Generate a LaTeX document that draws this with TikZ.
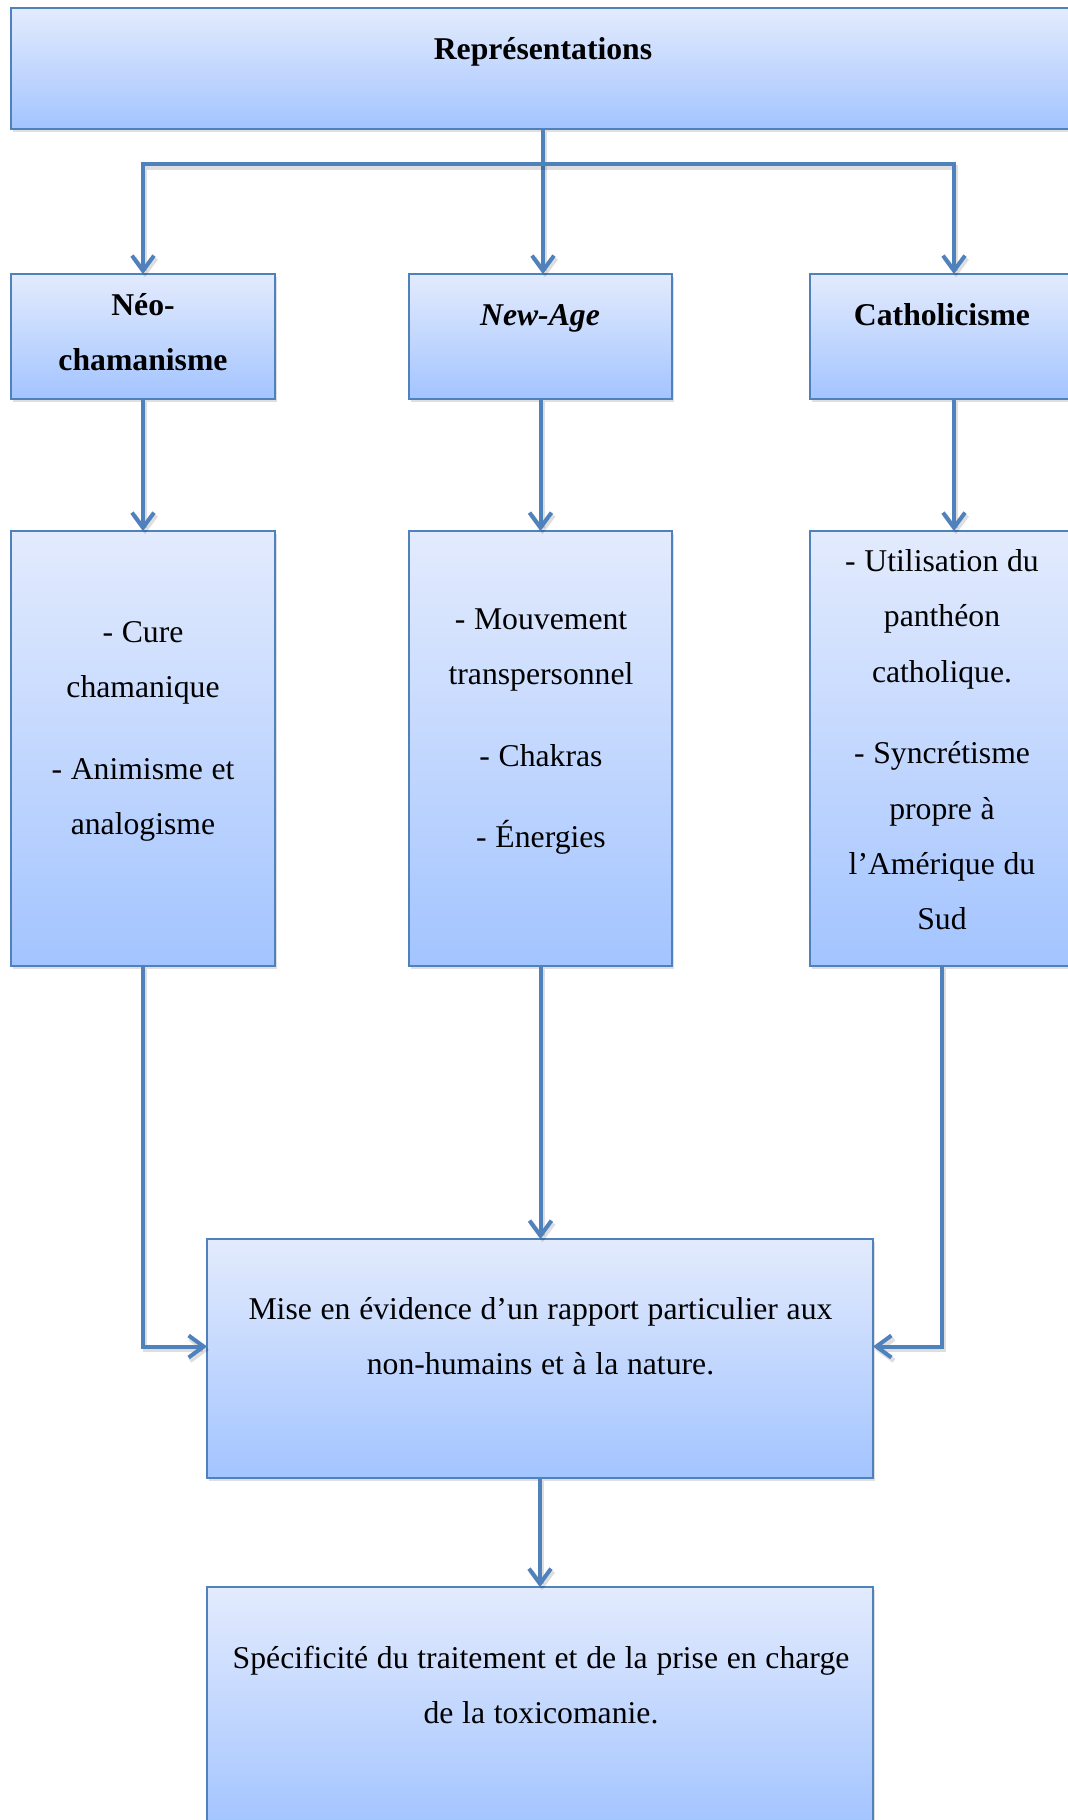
\documentclass[tikz,border=0pt]{standalone}
\usepackage{fontspec}
\setmainfont{Liberation Serif}
\usetikzlibrary{arrows.meta,shadows}
\definecolor{boxline}{RGB}{79,129,189}
\definecolor{boxtop}{RGB}{227,235,253}
\definecolor{boxbot}{RGB}{163,196,255}
\begin{document}
\begin{tikzpicture}[x=0.5pt,y=-0.5pt,
  box/.style={rectangle, draw=boxline, line width=1pt, top color=boxtop, bottom color=boxbot,
    anchor=north west, inner sep=0pt, outer sep=0pt,
    drop shadow={opacity=0.25, shadow xshift=1pt, shadow yshift=-1.6pt}},
  txt/.style={anchor=base, text width=#1, inner sep=0pt,
    font=\fontsize{15.85pt}{27.6pt}\selectfont,
    execute at begin node={\centering\spaceskip=0.275em plus 0.02em minus 0.02em\relax}},
  txt/.default=125pt,
  conn/.style={draw=boxline, line width=2pt,
    preaction={draw=black, draw opacity=0.13, line width=2.4pt, transform canvas={xshift=1pt,yshift=-1.6pt}}},
  arr/.style={conn, -{Straight Barb[length=7.5pt,width=11pt]}}]
\useasboundingbox (0,0) rectangle (1068,1820);
\fill[white] (0,0) rectangle (1068,1820);
\clip (0,0) rectangle (1068,1820);

% boxes
\node[box, minimum width=532pt, minimum height=60.5pt] (top) at (11,8) {};
\node[box, minimum width=132pt, minimum height=62.5pt] (a1) at (11,274) {};
\node[box, minimum width=131.5pt, minimum height=62.5pt] (b1) at (409,274) {};
\node[box, minimum width=132pt, minimum height=62.5pt] (c1) at (810,274) {};
\node[box, minimum width=132pt, minimum height=217.5pt] (a2) at (11,531) {};
\node[box, minimum width=131.5pt, minimum height=217.5pt] (b2) at (409,531) {};
\node[box, minimum width=132pt, minimum height=217.5pt] (c2) at (810,531) {};
\node[box, minimum width=333pt, minimum height=119.5pt] (m) at (207,1239) {};
\node[box, minimum width=333pt, minimum height=120pt] (f) at (207,1587) {};

% texts
\node[txt=300pt] (ttop) at (543,59.5) {\bfseries Représentations};
\node[txt] (ta1) at (143,315) {\bfseries Néo-\\chamanisme};
\node[txt] (tb1) at (540,325) {\bfseries\itshape New-Age};
\node[txt] (tc1) at (942,325) {\bfseries Catholicisme};
\node[txt] (ta2) at (143,642) {- Cure\\chamanique\\[13.3pt]- Animisme et\\analogisme};
\node[txt] (tb2) at (541,629) {- Mouvement\\transpersonnel\\[13.3pt]- Chakras\\[13.3pt]- Énergies};
\node[txt] (tc2) at (942,571.7) {- Utilisation du\\panthéon\\catholique.\\[13.3pt]- Syncrétisme\\propre à\\l’Amérique du\\Sud};
\node[txt=330pt] (tm) at (540.5,1319.3) {Mise en évidence d’un rapport particulier aux\\non-humains et à la nature.};
\node[txt=330pt] (tf) at (541,1668.3) {Spécificité du traitement et de la prise en charge\\de la toxicomanie.};

% connectors
\coordinate (split) at (543,164);
\draw[conn] (split |- top.south) -- (split);
\draw[arr] (split) -- (split |- b1.north);
\draw[arr] (split) -| (a1.north);
\draw[arr] (split) -| ([xshift=6pt]c1.north);
\draw[arr] (a1.south) -- (a2.north);
\draw[arr] (b1.south) -- (b2.north);
\draw[arr] ([xshift=6pt]c1.south) -- ([xshift=6pt]c2.north);
\draw[arr] (a2.south) |- ([yshift=6pt]m.west);
\draw[arr] (b2.south) -- (b2.south |- m.north);
\draw[arr] (c2.south) |- ([yshift=6pt]m.east);
\draw[arr] (m.south) -- (f.north);
\end{tikzpicture}
\end{document}
